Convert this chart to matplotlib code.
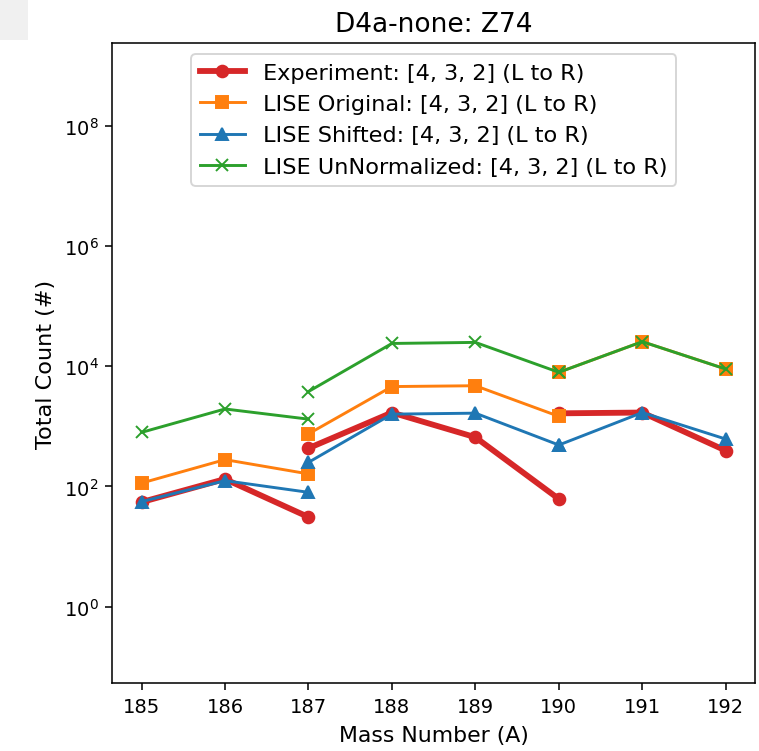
import matplotlib
matplotlib.use("Agg")
import matplotlib.pyplot as plt
from matplotlib.patches import Rectangle

# Mass numbers covered by each charge state (L to R: 4, 3, 2)
mass_q4 = [185, 186, 187]
mass_q3 = [187, 188, 189, 190]
mass_q2 = [190, 191, 192]

# Experiment
exp_q4 = [55, 133, 31]
exp_q3 = [433, 1700, 660, 62]
exp_q2 = [1650, 1700, 395]

# LISE Original
orig_q4 = [114, 280, 162]
orig_q3 = [750, 4600, 4750, 1470]
orig_q2 = [7950, 25700, 9000]

# LISE Shifted
shift_q4 = [56, 125, 80]
shift_q3 = [252, 1600, 1660, 490]
shift_q2 = [490, 1700, 615]

# LISE UnNormalized
unnorm_q4 = [795, 1950, 1320]
unnorm_q3 = [3800, 24000, 25000, 7950]
unnorm_q2 = [7950, 25700, 9000]

xticks = [185, 186, 187, 188, 189, 190, 191, 192]

W, H, DPI = 759, 752, 140
fig = plt.figure(figsize=(W / DPI, H / DPI), dpi=DPI)
ax = fig.add_axes([112.3 / W, 1 - 684 / H, (755 - 112.3) / W, (684 - 44) / H])

masses = [mass_q4, mass_q3, mass_q2]
series = [
    ("Experiment: [4, 3, 2] (L to R)", [exp_q4, exp_q3, exp_q2],
     dict(color="tab:red", marker="o", lw=3)),
    ("LISE Original: [4, 3, 2] (L to R)", [orig_q4, orig_q3, orig_q2],
     dict(color="tab:orange", marker="s", lw=1.5)),
    ("LISE Shifted: [4, 3, 2] (L to R)", [shift_q4, shift_q3, shift_q2],
     dict(color="tab:blue", marker="^", lw=1.5)),
    ("LISE UnNormalized: [4, 3, 2] (L to R)", [unnorm_q4, unnorm_q3, unnorm_q2],
     dict(color="tab:green", marker="x", lw=1.5)),
]

for label, segs, style in series:
    for i, (m, v) in enumerate(zip(masses, segs)):
        ax.plot(m, v, label=label if i == 0 else None, **style)

ax.set_yscale("log")
ax.set_ylim(10 ** -1.27, 10 ** 9.38)
ax.set_xticks(xticks)
ax.tick_params(labelsize=10)
ax.set_xlabel("Mass Number (A)", fontsize=11.3, labelpad=5)
ax.set_ylabel("Total Count (#)", fontsize=11.5)
ax.set_title("D4a-none: Z74", fontsize=13.6)
ax.legend(loc="upper center", fontsize=11.5)

fig.patches.append(Rectangle((0, 1 - 40 / H), 27 / W, 40 / H,
                             transform=fig.transFigure, color="#f0f0f0",
                             zorder=-1))

fig.savefig("out.png", dpi=DPI)
